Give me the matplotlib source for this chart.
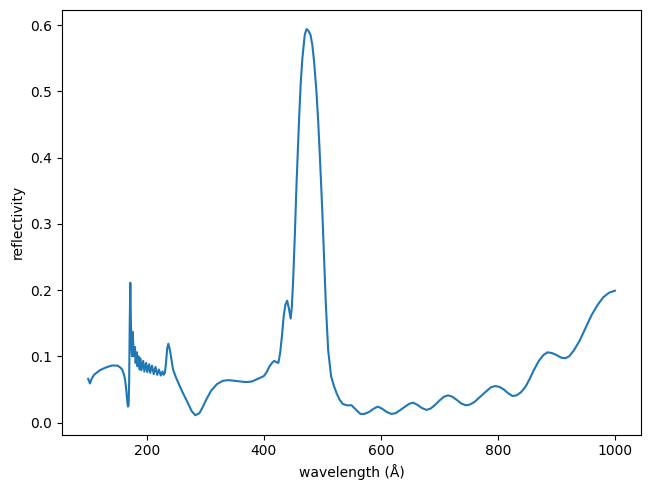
import matplotlib.pyplot as plt

# (wavelength in Å, reflectivity)
points = [
    (100, 0.066), (103, 0.059), (106, 0.066), (110, 0.072), (120, 0.079), (130, 0.083),
    (140, 0.086), (150, 0.086), (155, 0.083), (158, 0.080), (161, 0.073), (163, 0.065),
    (165, 0.050), (166, 0.040), (167, 0.030), (168, 0.024), (169, 0.026), (170, 0.060),
    (171, 0.150), (172, 0.211), (173, 0.150), (174, 0.110), (175, 0.100), (176, 0.137),
    (177, 0.120), (178, 0.100), (180, 0.114), (181, 0.090), (183, 0.106), (184, 0.085),
    (186, 0.100), (188, 0.080), (189, 0.097), (191, 0.079), (194, 0.093), (196, 0.077),
    (199, 0.090), (201, 0.076), (204, 0.088), (206, 0.075), (209, 0.086), (212, 0.073),
    (215, 0.084), (218, 0.072), (221, 0.080), (224, 0.071), (227, 0.077), (229, 0.072),
    (231, 0.075), (233, 0.090), (235, 0.112), (237, 0.119), (240, 0.108), (245, 0.080),
    (250, 0.068), (260, 0.048), (270, 0.030), (277, 0.017), (283, 0.011), (290, 0.014),
    (295, 0.022), (302, 0.035), (310, 0.048), (320, 0.058), (330, 0.063), (340, 0.064),
    (350, 0.063), (360, 0.062), (370, 0.061), (380, 0.062), (390, 0.066), (400, 0.070),
    (405, 0.076), (410, 0.085), (415, 0.091), (418, 0.093), (422, 0.091), (425, 0.090),
    (428, 0.105), (431, 0.130), (434, 0.160), (437, 0.178), (440, 0.184), (443, 0.172),
    (446, 0.157), (448, 0.175), (450, 0.210), (453, 0.280), (456, 0.360), (460, 0.450),
    (463, 0.510), (466, 0.550), (470, 0.585), (473, 0.594), (476, 0.592), (480, 0.585),
    (483, 0.570), (486, 0.545), (490, 0.500), (493, 0.455), (496, 0.400), (500, 0.320),
    (503, 0.250), (506, 0.180), (510, 0.110), (515, 0.070), (520, 0.055), (525, 0.043),
    (530, 0.034), (535, 0.028), (542, 0.026), (550, 0.026), (557, 0.020), (565, 0.013),
    (572, 0.013), (580, 0.016), (588, 0.021), (595, 0.024), (602, 0.021), (610, 0.016),
    (618, 0.013), (625, 0.014), (632, 0.018), (640, 0.023), (648, 0.028), (655, 0.030),
    (662, 0.027), (670, 0.022), (678, 0.019), (685, 0.021), (692, 0.026), (700, 0.033),
    (708, 0.039), (715, 0.041), (722, 0.039), (730, 0.034), (737, 0.029), (745, 0.026),
    (752, 0.027), (760, 0.031), (770, 0.039), (780, 0.047), (788, 0.053), (795, 0.055),
    (802, 0.054), (810, 0.050), (818, 0.044), (825, 0.040), (832, 0.041), (840, 0.046),
    (848, 0.055), (855, 0.067), (862, 0.080), (870, 0.093), (878, 0.102), (885, 0.106),
    (892, 0.105), (900, 0.102), (908, 0.098), (915, 0.097), (922, 0.100), (930, 0.109),
    (940, 0.124), (950, 0.143), (960, 0.162), (970, 0.177), (980, 0.189), (990, 0.196),
    (1000, 0.199),
]
wavelength = [p[0] for p in points]
reflectivity = [p[1] for p in points]

fig, ax = plt.subplots(figsize=(6.51, 4.91), dpi=100)
fig.subplots_adjust(left=0.095, right=0.985, top=0.98, bottom=0.115)
ax.plot(wavelength, reflectivity, color='#1f77b4', lw=1.5)
ax.set_xlabel('wavelength (Å)')
ax.set_ylabel('reflectivity')
fig.savefig('out.png')
